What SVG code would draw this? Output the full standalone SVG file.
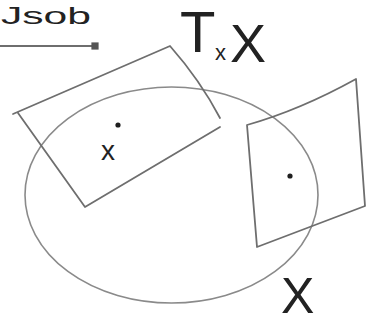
<svg xmlns="http://www.w3.org/2000/svg" width="382" height="328" viewBox="0 0 382 328">
<style>
.sk{fill:none;stroke:#6e6e6e;stroke-width:1.8;stroke-linecap:round;stroke-linejoin:round}
.el{fill:none;stroke:#8a8a8a;stroke-width:1.6}
.hw{font-family:"Liberation Sans","DejaVu Sans",sans-serif;fill:#222}
.dot{fill:#1e1e1e}
</style>
<defs>
<marker id="sq" markerWidth="4" markerHeight="4" refX="2" refY="2" orient="auto" markerUnits="strokeWidth">
<rect x="0" y="0" width="4" height="4" fill="#555"/>
</marker>
</defs>
<rect width="382" height="328" fill="#fff"/>
<g id="title"><text class="hw" x="1" y="24" font-size="24" textLength="90" lengthAdjust="spacingAndGlyphs">Jsob</text></g>
<g id="connectors"><path class="sk" d="M0 46 L95 46" stroke-width="2" marker-end="url(#sq)"/></g>
<g id="manifold">
<ellipse class="el" cx="171.5" cy="195" rx="146.5" ry="108"/>
<text class="hw" x="281" y="313" font-size="50">X</text>
</g>
<g id="tangent-left">
<path class="sk" d="M13 114 L170 46 Q200 80 220 118 M220 127 L85 207 L18 113"/>
<circle class="dot" cx="118" cy="125" r="2.6"/>
<text class="hw" x="101" y="160" font-size="28">x</text>
</g>
<g id="tangent-right">
<path class="sk" d="M247 125 Q300 110 356 79 L365 206 L257 247 Z"/>
<circle class="dot" cx="290" cy="176" r="2.6"/>
</g>
<g id="label-TxX">
<text class="hw" x="180" y="52" font-size="58">T</text>
<text class="hw" x="215" y="60" font-size="22">x</text>
<text class="hw" x="230" y="62" font-size="54">X</text>
</g>
</svg>
